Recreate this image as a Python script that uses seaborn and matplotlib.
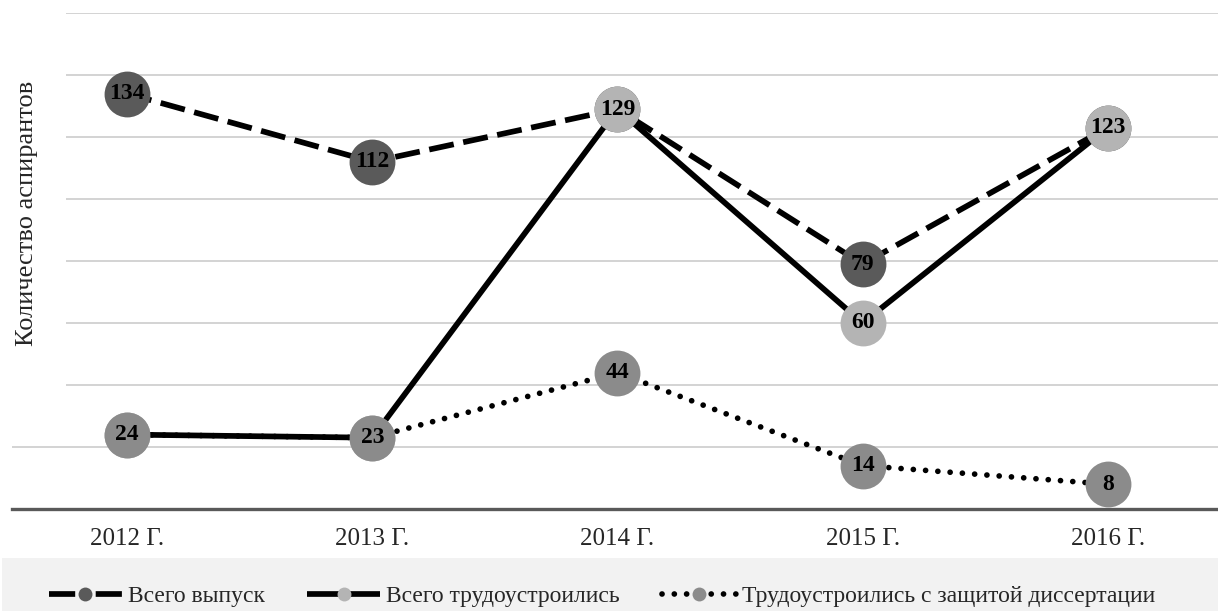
import matplotlib
matplotlib.use("Agg")
import matplotlib.pyplot as plt
import seaborn as sns
from matplotlib.lines import Line2D
from matplotlib.patches import Rectangle

years = ["2012 Г.", "2013 Г.", "2014 Г.", "2015 Г.", "2016 Г."]
total_grad = [134, 112, 129, 79, 123]
total_employed = [24, 23, 129, 60, 123]
employed_defended = [24, 23, 44, 14, 8]
series_names = ["Всего выпуск", "Всего трудоустроились",
                "Трудоустроились с защитой диссертации"]

sns.set_theme(style="white")
plt.rcParams["font.family"] = ["Liberation Serif", "DejaVu Serif"]

fig = plt.figure(figsize=(12.18, 6.11), dpi=100)
ax = fig.add_axes([12 / 1218, 1 - 509 / 611, 1 - 12 / 1218, (509 - 13) / 611])

# legend band
fig.patches.append(Rectangle((0.002, 0), 0.998, (611 - 558) / 611,
                             transform=fig.transFigure, facecolor="#f2f2f2",
                             edgecolor="none", zorder=0))

# dashes on the plot, dashes in the legend handle, cap style, marker colour
styles = [
    dict(dashes=(4.4, 1.7), leg_dashes=(4.6, 3.6), capstyle="butt", mcolor="#5a5a5a"),
    dict(dashes=None, leg_dashes=None, capstyle="butt", mcolor="#b4b4b4"),
    dict(dashes=(0.01, 2.15), leg_dashes=(0.01, 2.15), capstyle="round", mcolor="#8b8b8b"),
]
series = [total_grad, total_employed, employed_defended]
x = list(range(len(years)))

handles = []
for i, (vals, st) in enumerate(zip(series, styles)):
    n_before = len(ax.lines)
    sns.lineplot(x=x, y=vals, ax=ax, color="black", linewidth=4.1,
                 marker="o", markersize=33, markerfacecolor=st["mcolor"],
                 markeredgewidth=0, zorder=3 + 2 * i)
    ln = ax.lines[n_before]
    if st["dashes"] is not None:
        ln.set_dashes(st["dashes"])
    ln.set_dash_capstyle(st["capstyle"])
    ln.set_solid_capstyle("butt")
    for xi, v in zip(x, vals):
        ax.text(xi, v, str(v), ha="center", va="center", fontsize=17,
                fontweight="bold", color="black", zorder=4 + 2 * i)
    h = Line2D([], [], color="black", linewidth=4.1, marker="o",
               markersize=10, markerfacecolor=st["mcolor"], markeredgewidth=0)
    if st["leg_dashes"] is not None:
        h.set_dashes(st["leg_dashes"])
    h.set_dash_capstyle(st["capstyle"])
    h.set_solid_capstyle("butt")
    handles.append(h)

ax.set_xlim(-0.47, 4.45)
ax.set_ylim(0, 160)
ax.set_yticks(range(20, 161, 20))
ax.set_yticklabels([])
ax.set_xticks(x)
ax.set_xticklabels(years, fontsize=18)
ax.tick_params(axis="x", length=0, pad=14)
ax.tick_params(axis="y", length=0)
ax.grid(axis="y", color="#d0d0d0", linewidth=1.3)
ax.set_axisbelow(True)
for s in ["left", "right", "top"]:
    ax.spines[s].set_visible(False)
ax.spines["bottom"].set_color("#595959")
ax.spines["bottom"].set_linewidth(2.4)
ax.set_xlabel("")

# white box behind y label hides the gridlines there
ax.add_patch(Rectangle((0, (509 - 400) / 496), (66 - 12) / 1206, 1.05,
                       transform=ax.transAxes, facecolor="white",
                       edgecolor="none", zorder=1.5, clip_on=False))
fig.text(27 / 1218, 1 - 213 / 611, "Количество аспирантов", rotation=90,
         ha="center", va="center", fontsize=19)

fig.legend(handles, series_names, loc="center", ncol=3, frameon=False,
           bbox_to_anchor=(0.494, 1 - 596 / 611), fontsize=17,
           handlelength=3.1, handletextpad=0.25, columnspacing=1.8)

fig.savefig("out.png", dpi=100)
